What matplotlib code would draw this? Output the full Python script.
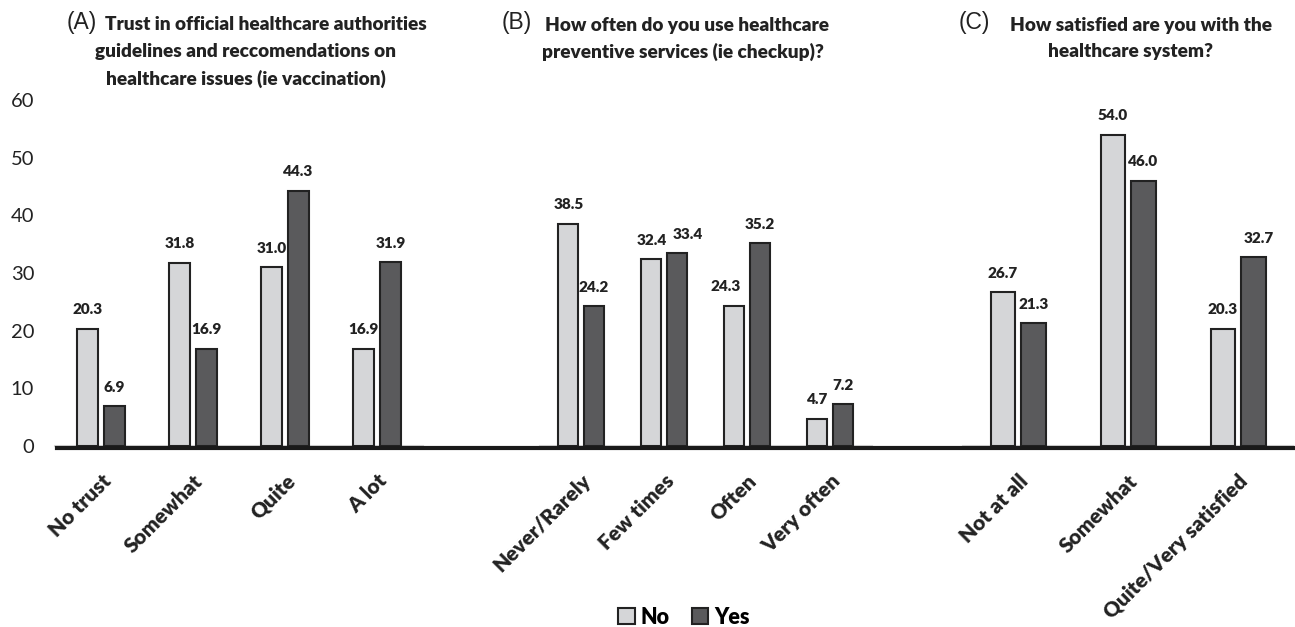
import numpy as np
import matplotlib.pyplot as plt
from matplotlib.lines import Line2D
from matplotlib.patches import Patch

plt.rcParams['font.family'] = ['Lato', 'DejaVu Sans']

# panel A
cats_a = ['No trust', 'Somewhat', 'Quite', 'A lot']
no_a = [20.3, 31.8, 31.0, 16.9]
yes_a = [6.9, 16.9, 44.3, 31.9]
# panel B
cats_b = ['Never/Rarely', 'Few times', 'Often', 'Very often']
no_b = [38.5, 32.4, 24.3, 4.7]
yes_b = [24.2, 33.4, 35.2, 7.2]
# panel C
cats_c = ['Not at all', 'Somewhat', 'Quite/Very satisfied']
no_c = [26.7, 54.0, 20.3]
yes_c = [21.3, 46.0, 32.7]

light = '#d5d6d8'
dark = '#5a5a5c'
edge = '#222222'
txt = '#222222'

W, H = 1295, 627
fig = plt.figure(figsize=(W / 100, H / 100), dpi=100)

bottom = 1 - 446 / H
height = 346 / H

panels = [
    (cats_a, no_a, yes_a, 55, 368, 0.23, 0.147),
    (cats_b, no_b, yes_b, 539.5, 332, 0.24, 0.152),
    (cats_c, no_c, yes_c, 963, 330, 0.22, 0.14),
]

# a few labels are nudged sideways so they don't collide (panel, series, category)
nudge = {(1, 1, 1): 8, (1, 0, 2): -6, (2, 1, 2): 4}

for i, (cats, no, yes, left, width, bw, off) in enumerate(panels):
    ax = fig.add_axes([left / W, bottom, width / W, height])
    x = np.arange(len(cats))
    b1 = ax.bar(x - off, no, bw, color=light, edgecolor=edge, linewidth=1.5, zorder=3)
    b2 = ax.bar(x + off, yes, bw, color=dark, edgecolor=edge, linewidth=1.5, zorder=3)
    for j, bars, vals in [(0, b1, no), (1, b2, yes)]:
        for k, (r, v) in enumerate(zip(bars, vals)):
            dx = nudge.get((i, j, k), 0)
            ax.annotate(f'{v:.1f}', (r.get_x() + r.get_width() / 2, v),
                        xytext=(dx, 9), textcoords='offset points',
                        ha='center', va='bottom', fontsize=11, fontweight='heavy',
                        color=txt, annotation_clip=False)
    ax.set_xlim(-0.5, len(cats) - 0.5)
    ax.set_ylim(0, 60)
    ax.set_xticks(x)
    ax.set_xticklabels(cats, rotation=45, ha='right', rotation_mode='anchor',
                       fontsize=15, fontweight='heavy', color=txt)
    ax.tick_params(axis='x', length=0, pad=18)
    for s in ['top', 'right', 'left']:
        ax.spines[s].set_visible(False)
    ax.spines['bottom'].set_color('#d9d9d9')
    ax.spines['bottom'].set_linewidth(1.5)
    if i == 0:
        ax.set_yticks(np.arange(0, 61, 10))
        ax.tick_params(axis='y', length=0, pad=15, labelsize=14.5, labelcolor=txt)
    else:
        ax.set_yticks([])

# thick baseline across the figure
fig.add_artist(Line2D([57 / W, 1.0], [1 - 448 / H, 1 - 448 / H],
                      color='#1a1a1a', linewidth=3, zorder=5))


def title(letter, lines, x_letter, x_first, centre):
    fig.text(x_letter / W, 1 - 23 / H, letter, family='Liberation Sans',
             fontsize=16.5, ha='right', va='center', color=txt)
    fig.text(x_first / W, 1 - 25 / H, lines[0], fontsize=13.7, fontweight='heavy',
             ha='left', va='center', color=txt)
    for k, line in enumerate(lines[1:]):
        fig.text(centre / W, 1 - (52 + 27 * k) / H, line, fontsize=13.7,
                 fontweight='heavy', ha='center', va='center', color=txt)


title('(A)', ['Trust in official healthcare authorities',
              'guidelines and reccomendations on',
              'healthcare issues (ie vaccination)'], 97, 105, 246)
title('(B)', ['How often do you use healthcare',
              'preventive services (ie checkup)?'], 532, 545, 683)
title('(C)', ['How satisfied are you with the',
              'healthcare system?'], 990, 1010, 1131)

handles = [Patch(facecolor=light, edgecolor=edge, linewidth=1.5, label='No'),
           Patch(facecolor=dark, edgecolor=edge, linewidth=1.5, label='Yes')]
fig.legend(handles=handles, loc='center', bbox_to_anchor=(684 / W, 1 - 617 / H),
           ncol=2, frameon=False, handlelength=0.75, handleheight=0.75,
           handletextpad=0.3, columnspacing=1.0,
           prop={'weight': 'heavy', 'size': 15.5})

fig.savefig('out.png', dpi=100)
